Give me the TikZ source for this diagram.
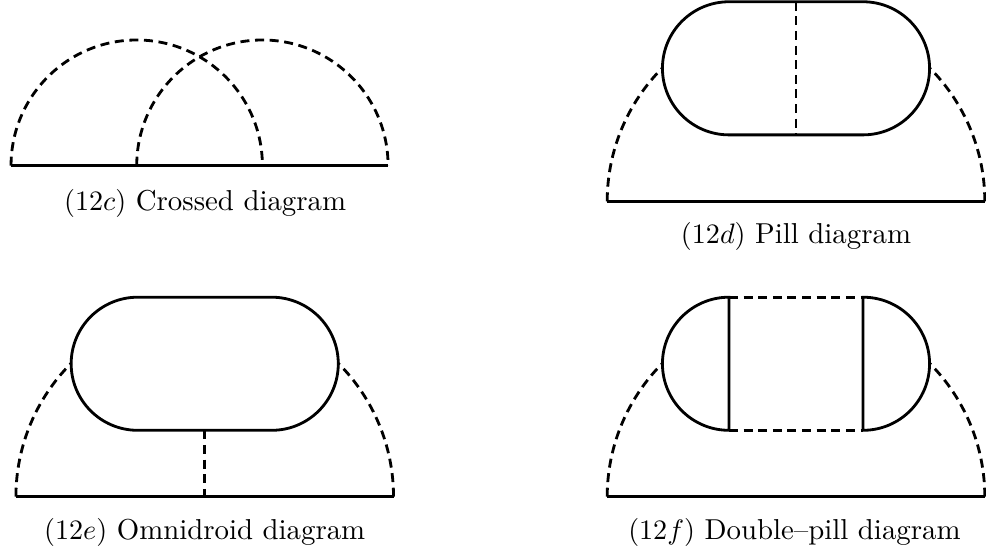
\documentclass[tikz,border=0pt]{standalone}
\usepackage{amsmath}
\usetikzlibrary{calc}
\tikzset{line/.style={line width=1pt},
  gluon/.style={line width=1pt,dash pattern=on 3.2pt off 2pt},
  pill/.style={line width=1pt},
  caption/.style={anchor=base,inner sep=0pt,font=\fontsize{10.25}{12}\selectfont}}
\begin{document}
\begin{tikzpicture}
\useasboundingbox (0,0) rectangle (12.325,6.9);
% crossed
\begin{scope}[shift={(2.494,4.829)}]
\coordinate (c1) at (-2.356,0);
\coordinate (c2) at (-0.785,0);
\coordinate (c3) at (0.785,0);
\coordinate (c4) at (2.356,0);
\draw[line] (c1)--(c4);
\draw[gluon] (c1) arc[start angle=180,end angle=0,radius=1.571];
\draw[gluon] (c2) arc[start angle=180,end angle=0,radius=1.571];
\node[caption] (capc) at (0.07,-0.555) {$(12c)$ Crossed diagram};
\end{scope}
% pill
\begin{scope}[shift={(9.95,4.384)}]
\coordinate (d1) at (-2.36,0);
\coordinate (d2) at (2.36,0);
\coordinate (dT) at (0,2.494);
\coordinate (dB) at (0,0.83);
\draw[line] (d1)--(d2);
\draw[gluon] (d1) arc[start angle=180,end angle=135,radius=2.36];
\draw[gluon] (d2) arc[start angle=0,end angle=45,radius=2.36];
\draw[pill] (-0.8375,2.494)--(0.8375,2.494) arc[start angle=90,end angle=-90,radius=0.832]
  --(-0.8375,0.83) arc[start angle=270,end angle=90,radius=0.832]--cycle;
\draw[gluon] (dT)--(dB);
\node[caption] (capd) at (0,-0.525) {$(12d)$ Pill diagram};
\end{scope}
% omnidroid
\begin{scope}[shift={(2.559,0.691)}]
\coordinate (e1) at (-2.36,0);
\coordinate (e2) at (2.36,0);
\coordinate (e3) at (0,0);
\coordinate (eB) at (0,0.83);
\draw[line] (e1)--(e2);
\draw[gluon] (e1) arc[start angle=180,end angle=135,radius=2.36];
\draw[gluon] (e2) arc[start angle=0,end angle=45,radius=2.36];
\draw[pill] (-0.8375,2.494)--(0.8375,2.494) arc[start angle=90,end angle=-90,radius=0.832]
  --(-0.8375,0.83) arc[start angle=270,end angle=90,radius=0.832]--cycle;
\draw[gluon] (eB)--(e3);
\node[caption] (cape) at (0,-0.54) {$(12e)$ Omnidroid diagram};
\end{scope}
% double pill
\begin{scope}[shift={(9.95,0.691)}]
\coordinate (f1) at (-2.36,0);
\coordinate (f2) at (2.36,0);
\coordinate (fTL) at (-0.8375,2.494);
\coordinate (fTR) at (0.8375,2.494);
\coordinate (fBL) at (-0.8375,0.83);
\coordinate (fBR) at (0.8375,0.83);
\draw[line] (f1)--(f2);
\draw[gluon] (f1) arc[start angle=180,end angle=135,radius=2.36];
\draw[gluon] (f2) arc[start angle=0,end angle=45,radius=2.36];
\draw[pill] (fTL) arc[start angle=90,end angle=270,radius=0.832]--cycle;
\draw[pill] (fTR) arc[start angle=90,end angle=-90,radius=0.832]--cycle;
\draw[gluon] (fTL)--(fTR);
\draw[gluon] (fBL)--(fBR);
\node[caption] (capf) at (-0.02,-0.54) {$(12f)$ Double--pill diagram};
\end{scope}
\end{tikzpicture}
\end{document}
